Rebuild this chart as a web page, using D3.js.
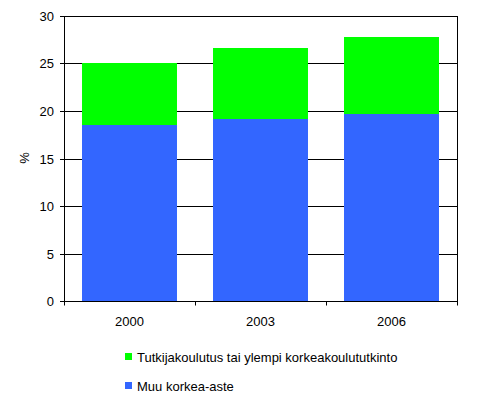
<!DOCTYPE html>
<html>
<head>
<meta charset="utf-8">
<script src="https://cdn.jsdelivr.net/npm/d3@7"></script>
<style>
  body { margin: 0; background: #fff; }
  text { font-family: Arial, "Liberation Sans", sans-serif; font-size: 13px; fill: #000; }
</style>
</head>
<body>
<script>
var years = ['2000', '2003', '2006'];
var muuKorkea = [18.5, 19.2, 19.7];
var tutkija = [6.5, 7.4, 8.1];
var seriesNames = ['Tutkijakoulutus tai ylempi korkeakoulututkinto', 'Muu korkea-aste'];
var seriesColors = ['#00ff00', '#3366ff'];
var yTicks = [0, 5, 10, 15, 20, 25, 30];

var width = 495;
var height = 413;
var plotLeft = 64, plotRight = 457, plotTop = 16, plotBottom = 301;

var svg = d3.select('body').append('svg')
  .attr('width', width)
  .attr('height', height);

var x = d3.scaleBand().domain(years).range([plotLeft, plotRight]).paddingInner(0.275).paddingOuter(0.1375);
var xb = d3.scaleBand().domain(years).range([plotLeft, plotRight]);
var y = d3.scaleLinear().domain([0, 30]).rangeRound([plotBottom, plotTop]);

// gridlines
svg.append('g').selectAll('line')
  .data(yTicks.filter(function(d) { return d > 0; }))
  .enter().append('line')
  .attr('x1', plotLeft).attr('x2', plotRight)
  .attr('y1', function(d) { return y(d) + 0.5; })
  .attr('y2', function(d) { return y(d) + 0.5; })
  .attr('stroke', '#000').attr('stroke-width', 1);

// right border
svg.append('line')
  .attr('x1', plotRight + 0.5).attr('x2', plotRight + 0.5)
  .attr('y1', plotTop).attr('y2', plotBottom)
  .attr('stroke', '#000');

var data = years.map(function(yr, i) {
  return { year: yr, muu: muuKorkea[i], tut: tutkija[i] };
});

// blue bottom
svg.append('g').selectAll('rect')
  .data(data).enter().append('rect')
  .attr('x', function(d) { return x(d.year); })
  .attr('width', x.bandwidth())
  .attr('y', function(d) { return y(d.muu); })
  .attr('height', function(d) { return y(0) - y(d.muu); })
  .attr('fill', seriesColors[1]);

// green top
svg.append('g').selectAll('rect')
  .data(data).enter().append('rect')
  .attr('x', function(d) { return x(d.year); })
  .attr('width', x.bandwidth())
  .attr('y', function(d) { return y(d.muu + d.tut); })
  .attr('height', function(d) { return y(d.muu) - y(d.muu + d.tut); })
  .attr('fill', seriesColors[0]);

// y axis
var yAxis = svg.append('g')
  .attr('transform', 'translate(' + plotLeft + ',0)')
  .call(d3.axisLeft(y).tickValues(yTicks).tickSize(4).tickPadding(6).offset(0.5));
yAxis.select('.domain').attr('stroke', '#000');
yAxis.selectAll('text').style('font-size', '13px').style('font-family', 'Arial, "Liberation Sans", sans-serif');

// x axis
var xAxis = svg.append('g')
  .attr('transform', 'translate(0,' + (plotBottom + 0.5) + ')');
xAxis.append('line')
  .attr('x1', plotLeft).attr('x2', plotRight + 1)
  .attr('stroke', '#000');
xAxis.selectAll('line.tick')
  .data(d3.range(years.length + 1)).enter().append('line')
  .attr('class', 'tick')
  .attr('x1', function(i) { return Math.round(plotLeft + i * xb.bandwidth()) + 0.5; })
  .attr('x2', function(i) { return Math.round(plotLeft + i * xb.bandwidth()) + 0.5; })
  .attr('y1', 0).attr('y2', 4)
  .attr('stroke', '#000');
xAxis.selectAll('text')
  .data(years).enter().append('text')
  .attr('x', function(d) { return xb(d) + xb.bandwidth() / 2; })
  .attr('y', 24)
  .attr('text-anchor', 'middle')
  .text(function(d) { return d; });

// y label
svg.append('text')
  .attr('transform', 'translate(29,158) rotate(-90)')
  .attr('text-anchor', 'middle')
  .text('%');

// legend
var legend = svg.append('g').selectAll('g')
  .data(seriesNames).enter().append('g')
  .attr('transform', function(d, i) { return 'translate(125,' + (353 + i * 29) + ')'; });
legend.append('rect')
  .attr('width', 7).attr('height', 7)
  .attr('fill', function(d, i) { return seriesColors[i]; });
legend.append('text')
  .attr('x', 12).attr('y', 8.5)
  .text(function(d) { return d; });
</script>
</body>
</html>
